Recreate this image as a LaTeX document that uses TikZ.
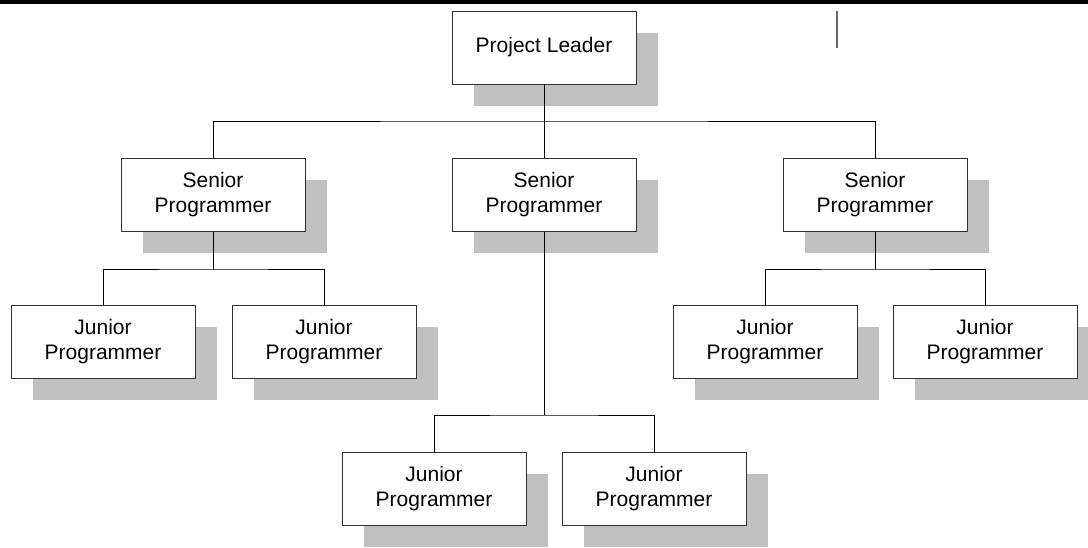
\documentclass[tikz,border=0pt]{standalone}
\usepackage{fontspec}
\setmainfont{Liberation Sans}
\usetikzlibrary{shadows}
\definecolor{shadowgray}{HTML}{C0C0C0}
\definecolor{linegray}{HTML}{303030}
\begin{document}
\begin{tikzpicture}[x=1pt,y=-1pt,
  orgbox/.style={draw=linegray, line width=1pt, fill=white, minimum width=184pt, minimum height=73pt,
    inner sep=0pt, align=center, font=\fontsize{21}{25}\selectfont,
    drop shadow={shadow xshift=22pt, shadow yshift=-22pt, fill=shadowgray, opacity=1}},
  conn/.style={draw=black, line width=1pt}]
\useasboundingbox (0,0) rectangle (1088,547);
\fill[black] (0,0) rectangle (1088,4);
\coordinate (ts) at (837,11);
\coordinate (te) at (837,48);
\draw[draw=gray!80!black, line width=1.2pt] (ts) -- (te);

\node[orgbox] (pl) at (544,47.5) {Project Leader};
\node[orgbox] (sl) at (213,194.5) {Senior\\Programmer};
\node[orgbox] (sm) at (544,194.5) {Senior\\Programmer};
\node[orgbox] (sr) at (875,194.5) {Senior\\Programmer};
\node[orgbox] (j1) at (103,341.5) {Junior\\Programmer};
\node[orgbox] (j2) at (324,341.5) {Junior\\Programmer};
\node[orgbox] (j3) at (765,341.5) {Junior\\Programmer};
\node[orgbox] (j4) at (985,341.5) {Junior\\Programmer};
\node[orgbox] (j5) at (434,488.5) {Junior\\Programmer};
\node[orgbox] (j6) at (654,488.5) {Junior\\Programmer};

\coordinate (b1) at (544,121);
\coordinate (b2) at (213,269);
\coordinate (b3) at (875,269);
\coordinate (b4) at (544,415);

\draw[conn] (pl.south) -- (sm.north);
\draw[conn] (sl.north) |- (b1) -| (sr.north);
\draw[conn] (sl.south) -- (b2);
\draw[conn] (j1.north) |- (b2) -| (j2.north);
\draw[conn] (sr.south) -- (b3);
\draw[conn] (j3.north) |- (b3) -| (j4.north);
\draw[conn] (sm.south) -- (b4);
\draw[conn] (j5.north) |- (b4) -| (j6.north);
\end{tikzpicture}
\end{document}
